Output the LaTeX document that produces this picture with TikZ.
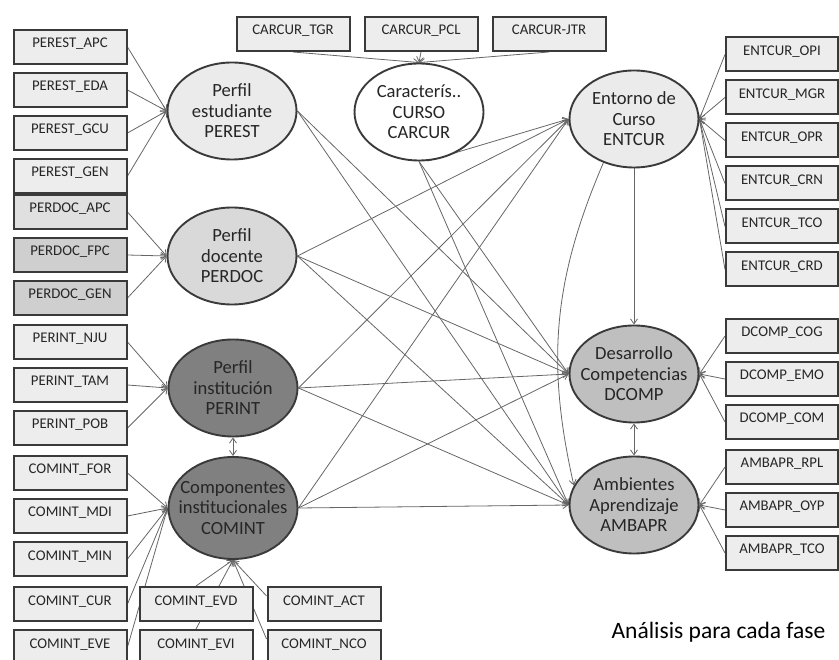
\documentclass[tikz,border=0pt]{standalone}
\usepackage{fontspec}
\setmainfont{Carlito}
\usepackage{tikz}
\usetikzlibrary{arrows.meta,positioning,shapes.geometric,backgrounds}

\definecolor{boxfill}{HTML}{EDEDED}
\definecolor{docfill}{HTML}{E0E0E0}
\definecolor{docdark}{HTML}{CFCFCF}
\definecolor{latlight}{HTML}{EBEBEB}
\definecolor{latdoc}{HTML}{D9D9D9}
\definecolor{latdark}{HTML}{808080}
\definecolor{latmid}{HTML}{BFBFBF}
\definecolor{rim}{HTML}{3A3A3A}

\begin{document}
\begin{tikzpicture}[
  x=1pt, y=-1pt,
  node distance=7pt and 13pt,
  ind/.style={draw=rim, line width=2pt, fill=boxfill, minimum width=113pt, minimum height=34pt, inner ysep=2pt, text height=16pt, text depth=14pt, font=\fontsize{14.8}{17}\selectfont, text=black!85},
  lat/.style={ellipse, draw=rim, line width=1.9pt, minimum width=129pt, minimum height=97pt, inner xsep=-10pt, inner ysep=0pt, align=center, font=\fontsize{18.6}{20.5}\selectfont, text=black!85},
  arr/.style={-{Straight Barb[length=5pt,width=7pt]}, draw=black!60, line width=0.8pt},
  dbl/.style={{Straight Barb[length=5pt,width=7pt]}-{Straight Barb[length=5pt,width=7pt]}, draw=black!60, line width=0.8pt}
]
\useasboundingbox (0,0) rectangle (839,660);
\clip (0,0) rectangle (839,660);

% latent variables
\node[lat, fill=latlight] (perest) at (232,111) {Perfil\\ estudiante\\ PEREST};
\node[lat, fill=latdoc] (perdoc) at (232,256) {Perfil\\ docente\\ PERDOC};
\node[lat, fill=latdark] (perint) at (233,388) {Perfil\\ institución\\ PERINT};
\node[lat, fill=latdark, minimum height=102pt] (comint) at (233,508) {Componentes\\ institucionales\\ COMINT};
\node[lat, fill=white] (carcur) at (419,112) {Caracterís..\\ CURSO\\ CARCUR};
\node[lat, fill=latlight] (entcur) at (634,119) {Entorno de\\ Curso\\ ENTCUR};
\node[lat, fill=latmid] (dcomp) at (634,374) {Desarrollo\\ Competencias\\ DCOMP};
\node[lat, fill=latmid] (ambapr) at (634,505) {Ambientes\\ Aprendizaje\\ AMBAPR};

% left indicators
\node[ind] (pe1) at (70,47) {PEREST\_APC};
\node[ind, below=of pe1] (pe2) {PEREST\_EDA};
\node[ind, below=of pe2] (pe3) {PEREST\_GCU};
\node[ind, below=of pe3] (pe4) {PEREST\_GEN};
\node[ind, fill=docfill] (pd1) at (70,212) {PERDOC\_APC};
\node[ind, fill=docdark, below=of pd1] (pd2) {PERDOC\_FPC};
\node[ind, fill=docdark, below=of pd2] (pd3) {PERDOC\_GEN};
\node[ind] (pi1) at (70,342) {PERINT\_NJU};
\node[ind, below=of pi1] (pi2) {PERINT\_TAM};
\node[ind, below=of pi2] (pi3) {PERINT\_POB};
\node[ind] (ci1) at (70,473) {COMINT\_FOR};
\node[ind, below=of ci1] (ci2) {COMINT\_MDI};
\node[ind, below=of ci2] (ci3) {COMINT\_MIN};
\node[ind] (cur) at (70,604) {COMINT\_CUR};
\node[ind, below=of cur] (eve) {COMINT\_EVE};
\node[ind] (evd) at (196,604) {COMINT\_EVD};
\node[ind, below=of evd] (evi) {COMINT\_EVI};
\node[ind, right=of evd] (act) {COMINT\_ACT};
\node[ind, below=of act] (nco) {COMINT\_NCO};

% top indicators
\node[ind] (cc1) at (293,34) {CARCUR\_TGR};
\node[ind, right=of cc1] (cc2) {CARCUR\_PCL};
\node[ind, right=of cc2] (cc3) {CARCUR-JTR};

% right indicators
\node[ind, minimum width=112pt] (ec1) at (782,54.5) {ENTCUR\_OPI};
\node[ind, minimum width=112pt, below=of ec1] (ec2) {ENTCUR\_MGR};
\node[ind, minimum width=112pt, below=of ec2] (ec3) {ENTCUR\_OPR};
\node[ind, minimum width=112pt, below=of ec3] (ec4) {ENTCUR\_CRN};
\node[ind, minimum width=112pt, below=of ec4] (ec5) {ENTCUR\_TCO};
\node[ind, minimum width=112pt, below=of ec5] (ec6) {ENTCUR\_CRD};
\node[ind, minimum width=112pt] (dc1) at (782,336) {DCOMP\_COG};
\node[ind, minimum width=112pt, below=of dc1] (dc2) {DCOMP\_EMO};
\node[ind, minimum width=112pt, below=of dc2] (dc3) {DCOMP\_COM};
\node[ind, minimum width=112pt] (am1) at (782,467) {AMBAPR\_RPL};
\node[ind, minimum width=112pt, below=of am1] (am2) {AMBAPR\_OYP};
\node[ind, minimum width=112pt, below=of am2] (am3) {AMBAPR\_TCO};

\node[font=\fontsize{23.5}{27}\selectfont] (fase) at (718.5,632) {Análisis para cada fase};

\begin{scope}[on background layer]
% measurement arrows
\draw[arr] (pe1.east) -- (perest.west);
\draw[arr] (pe2.east) -- (perest.west);
\draw[arr] (pe3.east) -- (perest.west);
\draw[arr] (pe4.east) -- (perest.west);
\draw[arr] (pd1.east) -- (perdoc.west);
\draw[arr] (pd2.east) -- (perdoc.west);
\draw[arr] (pd3.east) -- (perdoc.west);
\draw[arr] (pi1.east) -- (perint.west);
\draw[arr] (pi2.east) -- (perint.west);
\draw[arr] (pi3.east) -- (perint.west);
\draw[arr] (ci1.east) -- (comint.west);
\draw[arr] (ci2.east) -- (comint.west);
\draw[arr] (ci3.east) -- (comint.west);
\draw[arr] (cur.east) -- (comint.west);
\draw[arr] (eve.east) -- (comint.west);
\draw[arr] (evd.north) -- (comint.south);
\draw[arr] (evi.north) -- (comint.south);
\draw[arr] (act.172) -- (comint.south);
\draw[arr] (nco.172) -- (comint.south);
\draw[arr] (cc1.south) -- (carcur.north);
\draw[arr] (cc2.south) -- (carcur.north);
\draw[arr] (cc3.south) -- (carcur.north);
\draw[arr] (ec1.west) -- (entcur.east);
\draw[arr] (ec2.west) -- (entcur.east);
\draw[arr] (ec3.west) -- (entcur.east);
\draw[arr] (ec4.west) -- (entcur.east);
\draw[arr] (ec5.west) -- (entcur.east);
\draw[arr] (ec6.west) -- (entcur.east);
\draw[arr] (dc1.west) -- (dcomp.east);
\draw[arr] (dc2.west) -- (dcomp.east);
\draw[arr] (dc3.west) -- (dcomp.east);
\draw[arr] (am1.west) -- (ambapr.east);
\draw[arr] (am2.west) -- (ambapr.east);
\draw[arr] (am3.west) -- (ambapr.east);
% structural paths
\draw[arr] (perest.east) -- (dcomp.west);
\draw[arr] (perest.east) -- (ambapr.west);
\draw[arr] (perdoc.east) -- (entcur.west);
\draw[arr] (perdoc.east) -- (dcomp.west);
\draw[arr] (perdoc.east) -- (ambapr.west);
\draw[arr] (perint.east) -- (entcur.west);
\draw[arr] (perint.east) -- (dcomp.west);
\draw[arr] (perint.east) -- (ambapr.west);
\draw[arr] (comint.east) -- (entcur.west);
\draw[arr] (comint.east) -- (dcomp.west);
\draw[arr] (comint.east) -- (ambapr.west);
\draw[arr] (carcur.-80) -- (entcur.west);
\draw[arr] (carcur.south) -- (dcomp.west);
\draw[arr] (carcur.south) -- (ambapr.west);
\draw[arr] (entcur.south) -- (dcomp.north);
\draw[arr] (entcur.235) to[bend right=18] (ambapr.162);
\draw[dbl] (perint.south) -- (comint.north);
\draw[dbl] (dcomp.south) -- (ambapr.north);
\end{scope}
\end{tikzpicture}
\end{document}
